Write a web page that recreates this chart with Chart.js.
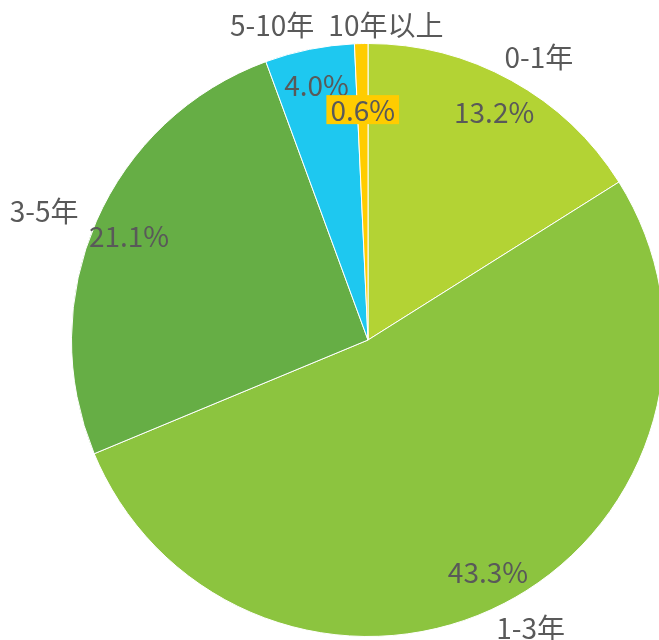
<!DOCTYPE html>
<html>
<head>
<meta charset="utf-8">
<script src="https://cdn.jsdelivr.net/npm/chart.js@4/dist/chart.umd.min.js"></script>
<style>
  html, body { margin: 0; padding: 0; overflow: hidden; background: #fff; }
  canvas { display: block; }
</style>
</head>
<body>
<canvas id="pie" width="680" height="640"></canvas>
<script>
const categories = ["0-1年", "1-3年", "3-5年", "5-10年", "10年以上"];
const shares = [13.2, 43.3, 21.1, 4.0, 0.6];
const sliceColors = ["#b3d334", "#8cc43f", "#66ae45", "#1ec8f0", "#ffcc00"];

const textColor = "#595959";
const labelFont = '28px "Noto Sans CJK SC", "Microsoft YaHei", sans-serif';
const lineH = 24;

function overlaps(a, b) {
  return Math.abs(a.cx - b.cx) < (a.w + b.w) / 2 && Math.abs(a.cy - b.cy) < lineH;
}

// push apart neighbouring outer labels that collide
function spread(items) {
  for (let i = 0; i < items.length; i++) {
    const a = items[i];
    const b = items[(i + 1) % items.length];
    if (!overlaps(a, b)) continue;
    const need = (a.w + b.w) / 2 + 14;
    const [left, right] = a.cx <= b.cx ? [a, b] : [b, a];
    const mid = (left.cx + right.cx) / 2;
    left.cx = mid - need / 2;
    right.cx = mid + need / 2;
  }
}

const pieLabels = {
  id: "pieLabels",
  afterDatasetsDraw(chart) {
    const ctx = chart.ctx;
    const arcs = chart.getDatasetMeta(0).data;
    const values = chart.data.datasets[0].data;
    ctx.save();
    ctx.font = labelFont;
    ctx.textAlign = "center";
    ctx.textBaseline = "middle";
    ctx.fillStyle = textColor;

    const geo = arcs.map((arc) => {
      const p = arc.getProps(["x", "y", "startAngle", "endAngle", "outerRadius"], true);
      return { ...p, mid: (p.startAngle + p.endAngle) / 2 };
    });

    // category names outside the pie
    const outer = geo.map((g, i) => {
      const r = g.outerRadius + 27;
      const text = categories[i];
      return {
        text,
        cx: g.x + Math.cos(g.mid) * (r + 30),
        cy: Math.max(g.y + Math.sin(g.mid) * r + 1, 25),
        w: ctx.measureText(text).width,
      };
    });
    spread(outer);
    outer.forEach((o) => ctx.fillText(o.text, o.cx, o.cy));

    // percentages inside the slices
    const inner = [];
    geo.forEach((g, i) => {
      const text = values[i].toFixed(1) + "%";
      const w = ctx.measureText(text).width;
      let r = g.outerRadius * 0.88;
      const item = { text, w, cx: g.x + Math.cos(g.mid) * r, cy: g.y + Math.sin(g.mid) * r, boxed: false };
      while (inner.some((o) => overlaps(o, item)) && r > 20) {
        r -= 2;
        item.cx = g.x + Math.cos(g.mid) * r;
        item.cy = g.y + Math.sin(g.mid) * r;
        item.boxed = true;
      }
      item.color = sliceColors[i];
      inner.push(item);
    });
    inner.forEach((o) => {
      if (o.boxed) {
        ctx.fillStyle = o.color;
        ctx.fillRect(o.cx - o.w / 2 - 4, o.cy - 14, o.w + 8, 29);
      }
      ctx.fillStyle = textColor;
      ctx.fillText(o.text, o.cx, o.cy + 1);
    });
    ctx.restore();
  },
};

new Chart(document.getElementById("pie"), {
  type: "pie",
  data: {
    labels: categories,
    datasets: [
      {
        data: shares,
        backgroundColor: sliceColors,
        borderColor: "#ffffff",
        borderWidth: 1,
        hoverOffset: 0,
      },
    ],
  },
  options: {
    responsive: false,
    animation: false,
    devicePixelRatio: 1,
    events: [],
    layout: { padding: { top: 43, bottom: 3, left: 71, right: 15 } },
    plugins: {
      legend: { display: false },
      tooltip: { enabled: false },
    },
  },
  plugins: [pieLabels],
});
</script>
</body>
</html>
